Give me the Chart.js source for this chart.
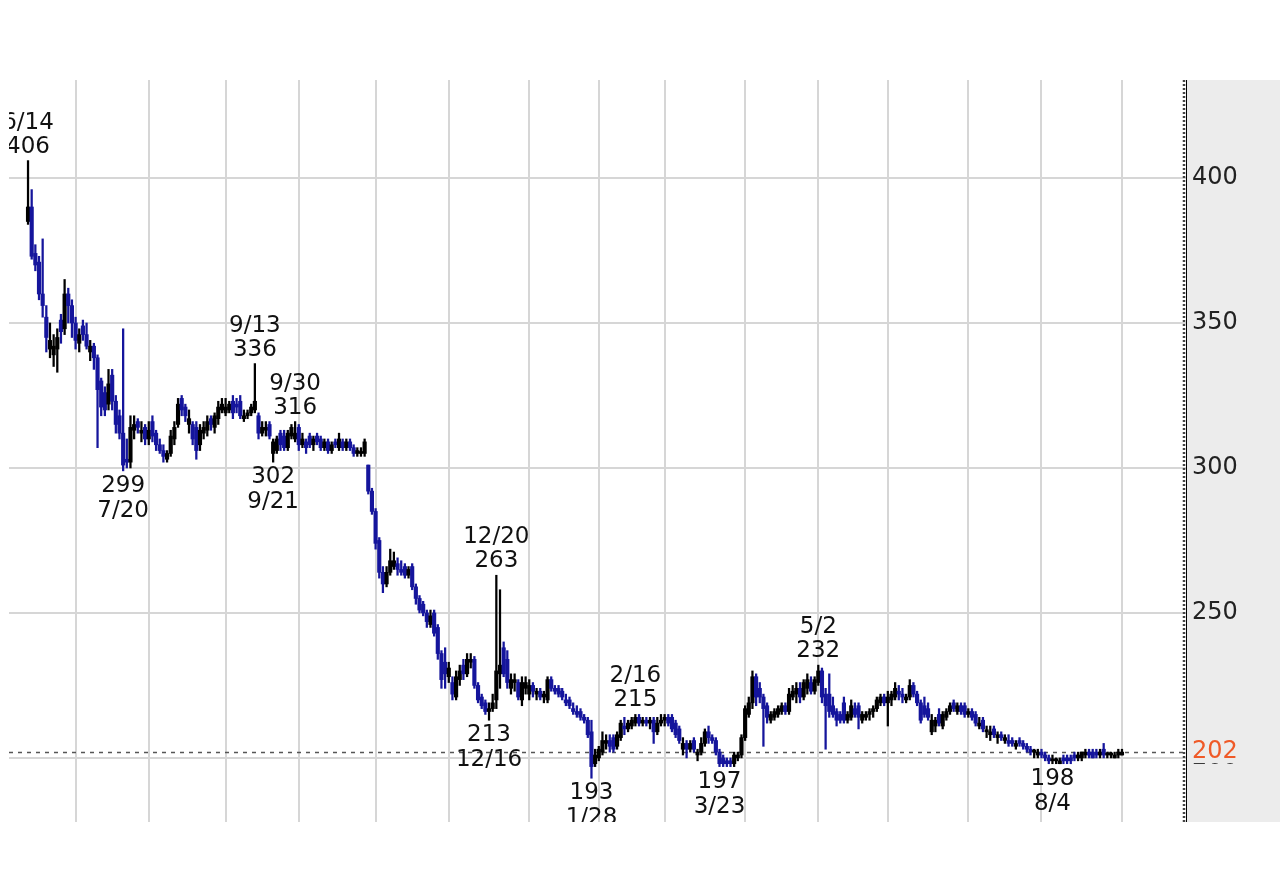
<!DOCTYPE html>
<html lang="ja">
<head>
<meta charset="UTF-8">
<title>chart</title>
<script src="https://cdn.jsdelivr.net/npm/chart.js"></script>
<style>
  html, body { margin: 0; padding: 0; background: #fff; overflow: hidden; }
  #chart_sect { width: 1280px; height: 876px; }
</style>
</head>
<body>
<div id="chart_sect"><canvas id="myChart" width="1280" height="876"></canvas></div>
<script>
// daily candles [open, high, low, close], 2021-06-14 .. 2022-09-01
const ohlc = [
  // 2021 Jun
  [385,406,384,390],[390,396,372,373],[374,377,368,370],[371,373,358,360],[360,379,352,356],
  [352,356,340,345],[341,350,338,344],[339,346,335,342],[341,348,333,345],[351,353,343,347],
  [348,365,346,360],[360,362,350,356],[356,358,345,350],
  // Jul
  [350,352,341,344],[343,348,340,346],[349,351,344,346],[346,350,341,342],[340,344,337,342],
  [342,343,334,338],[338,339,307,327],[330,331,318,321],[326,328,318,320],[322,334,320,329],
  [332,334,320,323],[323,325,312,315],[318,320,310,312],[312,348,299,301],[303,310,300,302],
  [302,318,300,314],[313,318,310,315],[316,317,312,314],[312,316,309,313],[314,315,308,310],
  // Aug
  [310,316,308,313],[316,318,309,311],[312,313,306,308],[308,310,305,306],[306,308,302,304],
  [303,306,302,305],[305,313,304,311],[310,316,308,314],[315,324,314,322],[324,325,318,320],
  [321,322,316,318],[315,320,312,317],[315,316,308,310],[314,316,303,306],[308,315,306,313],
  [312,316,310,314],[313,318,311,316],[317,318,313,315],[314,319,312,318],[317,323,315,321],
  [320,324,319,322],
  // Sep
  [319,324,318,321],[320,323,319,322],[323,325,317,319],[322,324,319,321],[323,325,317,318],
  [317,320,316,318],[318,320,317,319],[319,322,318,321],[320,336,319,323],[318,319,310,312],
  [312,316,311,314],[313,316,311,314],[315,316,310,311],[305,310,302,309],[306,311,305,310],
  [312,313,306,308],[311,313,306,307],[307,313,306,312],[311,315,310,314],[310,316,309,312],
  // Oct
  [314,315,306,308],[308,312,307,310],[309,310,305,307],[311,312,307,308],[308,311,306,310],
  [311,312,308,309],[310,311,306,307],[307,310,306,309],[309,310,305,306],[306,309,305,308],
  [309,310,307,308],[307,312,306,310],[309,310,306,307],[307,310,306,309],[309,310,306,307],
  [307,308,304,305],[305,307,304,306],[305,307,304,305],[305,310,304,309],[301,301,291,292],
  [292,293,284,285],
  // Nov
  [285,286,272,274],[275,276,262,264],[264,266,257,260],[260,266,259,264],[264,272,263,268],
  [266,271,265,268],[267,269,263,265],[265,268,263,264],[266,267,262,263],[263,266,262,265],
  [266,267,258,259],[259,260,253,255],[255,256,250,251],[253,254,249,250],[250,251,245,247],
  [246,251,245,249],[250,251,242,243],[245,246,234,236],[236,237,224,227],[233,238,224,229],
  // Dec
  [228,233,226,231],[226,228,220,222],[221,230,220,228],[227,232,225,230],[232,234,227,229],
  [229,236,228,234],[233,236,231,234],[234,235,224,225],[225,226,219,220],[221,222,217,218],
  [219,220,215,216],[216,219,213,217],[217,222,216,219],[220,263,217,230],[229,258,224,232],
  [238,240,228,229],[234,237,224,226],[224,229,222,227],[226,229,223,227],[226,227,220,221],
  [220,228,218,226],[224,228,222,226],
  // 2022 Jan
  [222,227,220,225],[225,226,221,223],[222,224,220,223],[223,224,220,221],[221,223,219,222],
  [220,228,219,227],[227,228,223,224],[224,225,222,223],[224,225,221,222],[223,224,220,221],
  [220,222,218,219],[220,221,217,218],[217,219,215,216],[216,218,214,215],[216,217,213,214],
  [214,215,212,213],[213,214,207,208],[209,213,193,197],[198,203,197,201],
  // Feb
  [200,204,199,203],[202,209,201,206],[205,208,203,206],[206,208,202,204],[207,208,202,203],
  [204,209,203,208],[207,213,206,212],[211,214,208,210],[210,213,209,212],[211,214,210,213],
  [212,215,211,214],[214,215,211,212],[212,214,211,213],[213,214,211,212],[212,214,210,213],
  [213,214,205,209],[209,214,208,212],[212,215,211,213],
  // Mar
  [213,215,211,214],[214,215,211,212],[214,215,209,210],[212,213,207,208],[210,211,205,206],
  [203,207,201,205],[205,206,200,203],[203,206,202,205],[206,207,202,203],[201,203,199,202],
  [202,207,201,205],[205,210,204,209],[209,211,205,207],[207,208,205,206],[206,207,201,202],
  [202,203,197,198],[200,201,197,198],[199,200,197,198],[199,200,197,198],[198,202,197,201],
  [200,202,199,201],[201,208,200,207],
  // Apr
  [207,218,206,217],[215,221,214,219],[219,230,217,228],[228,229,218,221],[224,226,219,221],
  [221,222,204,217],[218,219,212,214],[213,216,212,215],[214,217,213,216],[215,218,214,217],
  [216,219,215,218],[218,219,215,216],[216,224,215,222],[221,225,220,223],[222,226,219,224],
  [224,226,219,221],[221,227,220,226],[224,229,222,227],[226,228,222,223],[223,228,222,227],
  // May
  [226,232,225,230],[230,231,219,221],[222,224,203,218],[222,229,214,216],[218,221,214,215],
  [216,217,211,213],[215,216,212,213],[219,221,212,213],[213,216,212,215],[214,220,213,218],
  [217,219,214,215],[218,219,210,214],[213,216,212,215],[214,216,213,215],[215,217,213,216],
  [216,218,214,217],[217,221,216,220],[219,222,218,221],[221,222,218,219],
  // Jun
  [219,223,211,221],[220,223,218,222],[221,226,220,224],[223,225,220,222],[222,224,219,221],
  [220,222,219,221],[221,227,220,225],[225,226,221,222],[222,223,218,219],[219,220,212,213],
  [218,221,214,215],[217,219,213,214],[209,215,208,213],[211,214,209,213],[215,217,211,212],
  [211,216,210,215],[214,217,213,216],[216,219,215,218],[219,220,216,217],[216,219,215,218],
  [218,219,215,216],[218,219,214,215],
  // Jul
  [215,217,214,216],[216,217,213,214],[215,216,211,212],[211,214,210,212],[213,214,209,210],
  [209,211,207,209],[208,211,206,209],[210,211,207,208],[207,209,205,208],[208,209,206,207],
  [206,208,205,207],[206,208,204,205],[206,207,204,205],[204,206,203,205],[206,207,204,205],
  [205,206,203,204],[204,205,202,203],[203,204,201,202],[202,203,200,202],[201,203,200,202],
  // Aug
  [202,203,200,201],[201,202,199,200],[200,201,198,199],[199,201,198,199],[199,200,198,199],
  [198,200,198,199],[200,201,198,199],[200,201,198,199],[200,201,198,199],[201,202,199,200],
  [200,202,199,201],[200,202,199,202],[201,203,200,202],[202,203,200,201],[202,203,200,200],
  [202,203,200,201],[201,203,200,202],[203,205,200,201],[201,202,200,201],[201,202,200,201],
  [200,202,200,201],[201,203,200,202],
  // Sep
  [201,203,201,202]
];

// index of first trading day of each month (Jul 2021 .. Sep 2022)
const monthStarts = [13, 33, 54, 74, 95, 115, 137, 156, 174, 196, 216, 235, 257, 277, 299];
const yTicks = [200, 250, 300, 350, 400];
// [candle index, date text, which extreme]
const marks = [
  [0, '6/14', 'high'], [26, '7/20', 'low'], [62, '9/13', 'high'], [67, '9/21', 'low'],
  [73, '9/30', 'high'], [126, '12/16', 'low'], [128, '12/20', 'high'], [154, '1/28', 'low'],
  [166, '2/16', 'high'], [189, '3/23', 'low'], [216, '5/2', 'high'], [280, '8/4', 'low']
];
const lastPrice = ohlc[ohlc.length - 1][3];

const upColor = '#000000';
const downColor = '#15159c';
const barColors = ohlc.map(c => c[3] >= c[0] ? upColor : downColor);
const bodies = ohlc.map((c, i) => ({ x: i, y: [c[0], c[3]] }));
const wicks = ohlc.map((c, i) => ({ x: i, y: [c[2], c[1]] }));

const labelFont = '23px "DejaVu Sans"';

const decor = {
  id: 'decor',
  beforeDraw(chart) {
    const { ctx, chartArea: a } = chart;
    ctx.save();
    ctx.fillStyle = '#ffffff';
    ctx.fillRect(0, 0, chart.width, chart.height);
    ctx.fillStyle = '#ececec';
    ctx.fillRect(a.right, a.top, chart.width - a.right, a.bottom - a.top);
    ctx.restore();
  },
  beforeDatasetsDraw(chart) {
    const { ctx, chartArea: a, scales } = chart;
    const y = Math.round(scales.y.getPixelForValue(lastPrice)) + 0.5;
    ctx.save();
    ctx.strokeStyle = '#555';
    ctx.lineWidth = 1.5;
    ctx.setLineDash([4, 5]);
    ctx.beginPath();
    ctx.moveTo(a.left, y);
    ctx.lineTo(a.right, y);
    ctx.stroke();
    ctx.restore();
  },
  afterDraw(chart) {
    const { ctx, chartArea: a, scales } = chart;
    ctx.save();
    // right edge: dotted + solid
    ctx.strokeStyle = '#444';
    ctx.lineWidth = 2.5;
    ctx.setLineDash([2, 2]);
    ctx.beginPath();
    ctx.moveTo(a.right - 2, a.top);
    ctx.lineTo(a.right - 2, a.bottom);
    ctx.stroke();
    ctx.setLineDash([]);
    ctx.strokeStyle = '#000';
    ctx.lineWidth = 1;
    ctx.beginPath();
    ctx.moveTo(a.right + 0.5, a.top);
    ctx.lineTo(a.right + 0.5, a.bottom);
    ctx.stroke();

    // last price tag
    const yp = scales.y.getPixelForValue(lastPrice);
    ctx.fillStyle = '#ececec';
    ctx.fillRect(a.right + 1, yp - 12, 90, 23);
    ctx.fillStyle = '#ef5a28';
    ctx.font = '24px "DejaVu Sans"';
    ctx.textAlign = 'left';
    ctx.textBaseline = 'middle';
    ctx.fillText(String(lastPrice), a.right + 6, yp);

    // high / low marks
    ctx.beginPath();
    ctx.rect(a.left, a.top, a.right - a.left, a.bottom - a.top);
    ctx.clip();
    ctx.font = labelFont;
    ctx.fillStyle = '#111';
    ctx.textAlign = 'center';
    ctx.textBaseline = 'alphabetic';
    marks.forEach(([i, date, kind]) => {
      const x = scales.x.getPixelForValue(i);
      if (kind === 'high') {
        const v = ohlc[i][1];
        const y = scales.y.getPixelForValue(v);
        ctx.fillText(String(v), x, y - 8);
        ctx.fillText(date, x, y - 32);
      } else {
        const v = ohlc[i][2];
        const y = scales.y.getPixelForValue(v);
        ctx.fillText(String(v), x, y + 21);
        ctx.fillText(date, x, y + 46);
      }
    });
    ctx.restore();
  }
};

new Chart(document.getElementById('myChart'), {
  type: 'bar',
  data: {
    datasets: [
      { data: bodies, backgroundColor: barColors, barThickness: 3.5, grouped: false, minBarLength: 2 },
      { data: wicks, backgroundColor: barColors, barThickness: 1.6, grouped: false }
    ]
  },
  options: {
    responsive: false,
    devicePixelRatio: 1,
    animation: false,
    layout: { padding: { left: 9, top: 80, right: 0, bottom: 54 } },
    plugins: { legend: { display: false }, tooltip: { enabled: false } },
    scales: {
      x: {
        type: 'linear',
        min: -5.2,
        max: 316.5,
        offset: false,
        grid: { color: '#d6d6d6', lineWidth: 2, drawTicks: false, offset: false },
        border: { display: false },
        ticks: { display: false },
        afterBuildTicks: s => { s.ticks = monthStarts.map(v => ({ value: v })); },
        afterFit: s => { s.height = 0; }
      },
      y: {
        position: 'right',
        min: 177.9,
        max: 433.8,
        grid: { color: '#d6d6d6', lineWidth: 2, drawTicks: false },
        border: { display: false },
        ticks: { color: '#222', font: { family: 'DejaVu Sans', size: 24 }, padding: 6 },
        afterBuildTicks: s => { s.ticks = yTicks.map(v => ({ value: v })); },
        afterFit: s => { s.width = 94; }
      }
    }
  },
  plugins: [decor]
});
</script>
</body>
</html>
